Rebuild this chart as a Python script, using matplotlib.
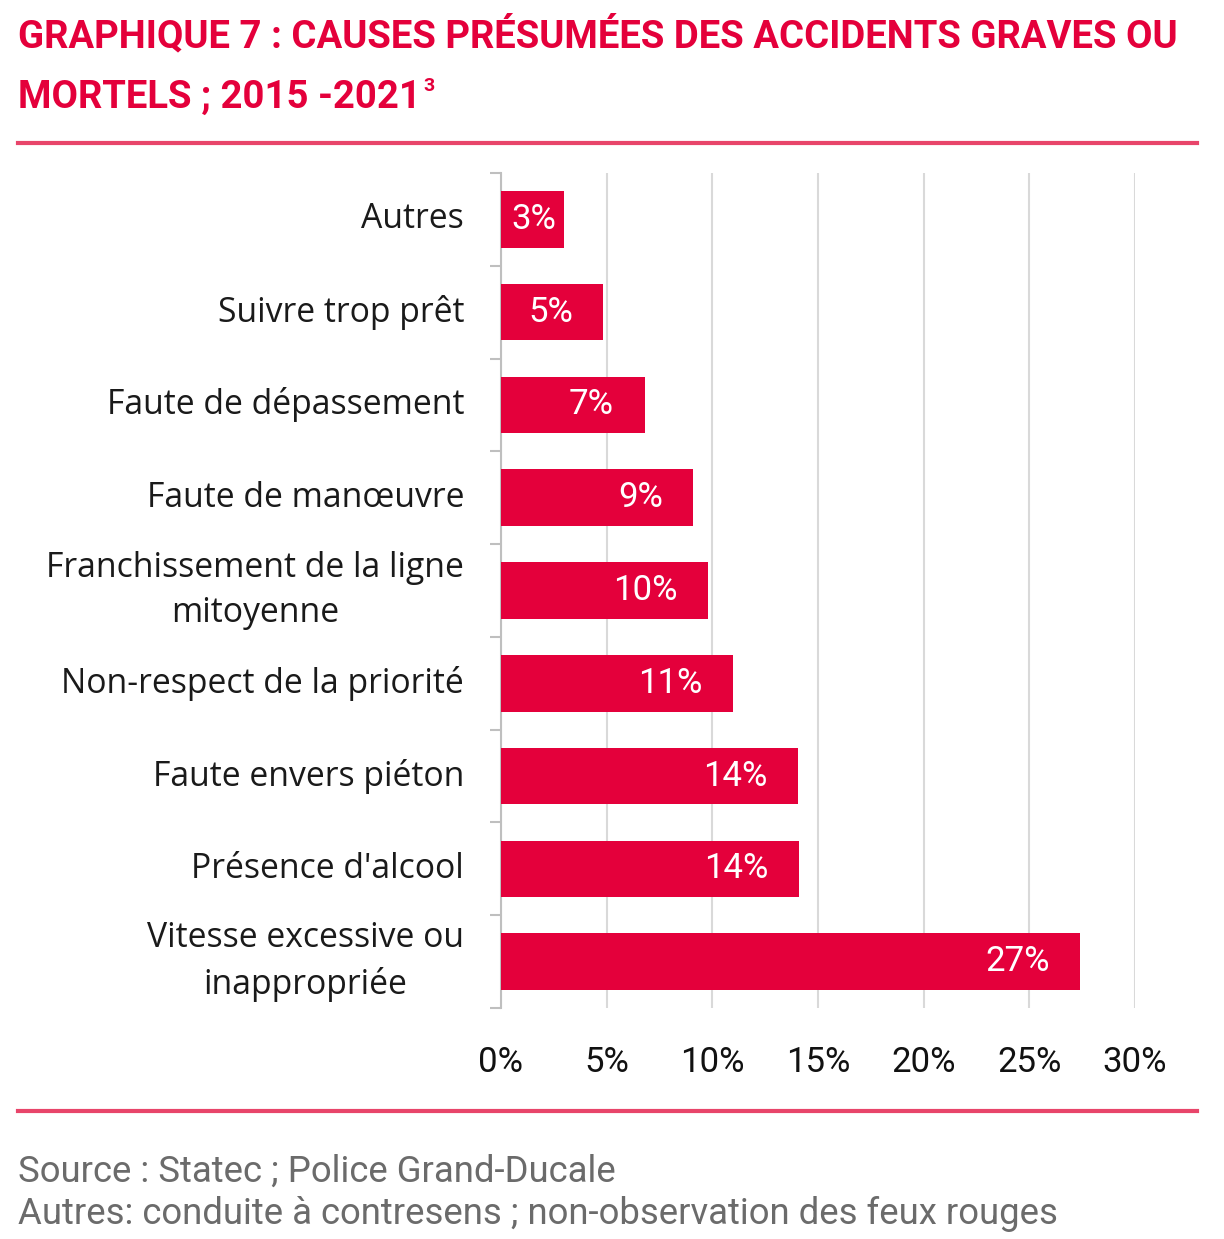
import matplotlib
matplotlib.use("Agg")
import matplotlib.pyplot as plt
from matplotlib.lines import Line2D

categories = ["Vitesse excessive ou\ninappropriée", "Présence d'alcool", "Faute envers piéton",
              "Non-respect de la priorité", "Franchissement de la ligne\nmitoyenne",
              "Faute de manœuvre", "Faute de dépassement", "Suivre trop prêt", "Autres"]
values = [27.4, 14.1, 14.05, 11.0, 9.8, 9.1, 6.8, 4.85, 3.0]
value_labels = ["27%", "14%", "14%", "11%", "10%", "9%", "7%", "5%", "3%"]
xticks = [0, 5, 10, 15, 20, 25, 30]
xticklabels = ["0%", "5%", "10%", "15%", "20%", "25%", "30%"]

RED = "#e4003b"
LINE_RED = "#e8456a"
COND = ["Roboto", "DejaVu Sans"]

fig = plt.figure(figsize=(12.24, 12.39), dpi=100)
ax = fig.add_axes([501/1224, 1-1008/1239, (1135-501)/1224, (1008-173)/1239])

y = list(range(len(categories)))
ax.barh(y, values, height=0.61, color=RED, zorder=3)
ax.set_ylim(-0.5, len(categories)-0.5)
ax.set_xlim(0, 30)
ax.set_xticks(xticks)
ax.set_xticklabels(xticklabels, family=COND, fontsize=25, color="#111111")
ax.tick_params(axis="x", length=0, pad=27)
ax.grid(axis="x", color="#d9d9d9", linewidth=1.5, zorder=0)
ax.set_yticks([i - 0.5 for i in range(len(categories)+1)])
ax.set_yticklabels([])
ax.tick_params(axis="y", length=8, width=1.5, color="#bfbfbf")
for i, c in enumerate(categories):
    ax.text(-0.058, i, c, transform=ax.get_yaxis_transform(), ha="right", va="center",
            multialignment="center",
            family=["Open Sans", "DejaVu Sans"], fontsize=24.3, color="#1a1a1a", linespacing=1.42)
for s in ["top", "right", "bottom"]:
    ax.spines[s].set_visible(False)
ax.spines["left"].set_color("#bfbfbf")
ax.spines["left"].set_linewidth(1.5)

for i, (v, lab) in enumerate(zip(values, value_labels)):
    xr = v - 1.45 if v >= 4 else v - 0.4
    ax.text(xr, i, lab, ha="right", va="center", color="white", family=COND, fontsize=25, zorder=4)

t1 = fig.text(18/1224, 1-36/1239, "GRAPHIQUE 7 : CAUSES PRÉSUMÉES DES ACCIDENTS GRAVES OU",
              family=COND, fontsize=27.5, fontweight="bold", color=RED, va="center", ha="left")
t2 = fig.text(18/1224, 1-97/1239, "MORTELS ; 2015 -2021",
              family=COND, fontsize=27.5, fontweight="bold", color=RED, va="center", ha="left")
ax.annotate("3", xy=(1, 1), xycoords=t2, xytext=(2, 1), textcoords="offset points",
            ha="left", va="top", family=COND, fontsize=14, fontweight="bold", color=RED,
            annotation_clip=False)
fig.add_artist(Line2D([18/1224, 1197/1224], [1-143/1239]*2, color=LINE_RED, linewidth=3))
fig.add_artist(Line2D([18/1224, 1197/1224], [1-1111/1239]*2, color=LINE_RED, linewidth=3))
fig.text(18/1224, 1-1172/1239, "Source : Statec ; Police Grand-Ducale",
         family=COND, fontsize=26.3, color="#6b6b6b", va="center", ha="left")
fig.text(18/1224, 1-1214/1239, "Autres: conduite à contresens ; non-observation des feux rouges",
         family=COND, fontsize=26.3, color="#6b6b6b", va="center", ha="left")

fig.savefig("out.png", dpi=100, facecolor="white")
